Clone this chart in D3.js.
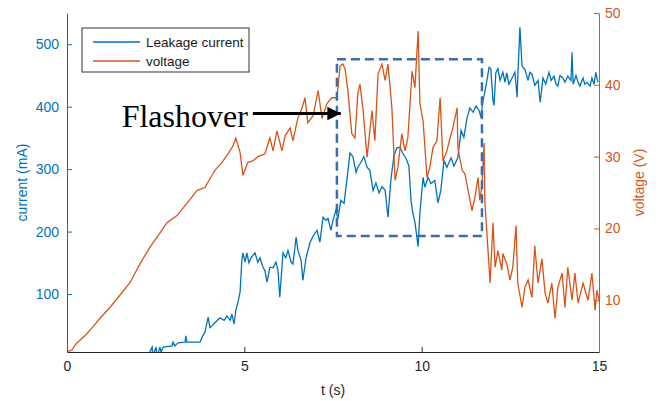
<!DOCTYPE html>
<html>
<head>
<meta charset="utf-8">
<title>Leakage current and voltage</title>
<script src="https://d3js.org/d3.v7.min.js"></script>
<style>
  body { margin: 0; background: #fff; font-family: "Liberation Sans", Arial, sans-serif; }
  .tick text { font-family: "Liberation Sans", Arial, sans-serif; }
</style>
</head>
<body>
<div id="chart"></div>
<script>
// voltage trace (t in s, V)
var voltageT = [0, 0.14, 0.25, 0.31, 0.51, 0.73, 0.93, 1.21, 1.49, 1.78, 1.92, 2.06, 2.34, 2.54, 2.82, 3.10, 3.38, 3.67,
  3.89, 4.17, 4.37, 4.54, 4.68, 4.76, 4.88, 4.96, 5.10, 5.24, 5.38, 5.58, 5.72, 5.81, 5.92, 6.06, 6.15, 6.29, 6.37,
  6.51, 6.63, 6.71, 6.79, 6.94, 7.08, 7.19, 7.33, 7.47, 7.61, 7.70, 7.78, 7.84, 7.92, 8.03, 8.12, 8.20, 8.26, 8.35,
  8.46, 8.60, 8.68, 8.77, 8.88, 8.97, 9.05, 9.16, 9.25, 9.33, 9.44, 9.53, 9.61, 9.73, 9.81, 9.90, 9.95, 10.04, 10.15,
  10.23, 10.32, 10.43, 10.52, 10.60, 10.71, 10.80, 10.88, 11.00, 11.02, 11.14, 11.22, 11.31, 11.42, 11.50, 11.59,
  11.64, 11.70, 11.76, 11.78, 11.84, 11.93, 12.01, 12.07, 12.15, 12.26, 12.29, 12.40, 12.49, 12.57, 12.66, 12.71,
  12.83, 12.91, 13.00, 13.11, 13.19, 13.28, 13.39, 13.48, 13.56, 13.67, 13.76, 13.84, 13.96, 14.04, 14.12, 14.24,
  14.32, 14.41, 14.55, 14.69, 14.80, 14.89, 14.94, 15.00];
var voltageV = [2.8, 3.1, 3.9, 4.2, 5.1, 6.3, 7.5, 9.0, 10.7, 12.5, 13.8, 15.1, 17.4, 18.8, 20.8, 21.8, 23.5, 25.3,
  25.7, 28.1, 29.2, 30.4, 31.5, 32.6, 30.6, 27.4, 29.2, 29.4, 30.0, 30.4, 32.6, 30.8, 33.6, 30.8, 32.9, 34.0, 32.2,
  35.4, 36.8, 38.2, 34.7, 35.7, 39.2, 35.3, 37.4, 38.2, 38.2, 42.6, 42.9, 42.2, 39.2, 33.2, 32.6, 38.8, 40.1, 36.4,
  29.9, 36.4, 32.2, 41.5, 42.9, 40.6, 42.9, 36.8, 26.7, 28.5, 33.2, 30.8, 32.6, 41.9, 39.6, 47.5, 37.4, 35.0, 27.1,
  28.5, 31.3, 32.2, 38.2, 29.4, 30.8, 32.6, 34.0, 36.8, 31.3, 28.1, 27.6, 25.3, 22.5, 24.3, 27.1,
  23.9, 26.0, 31.9, 23.9, 19.3, 12.4, 20.8, 14.6, 16.9, 14.2, 16.5, 15.1, 12.8, 14.6, 20.4, 12.4,
  9.0, 11.8, 12.8, 10.4, 17.6, 12.4, 15.8, 11.0, 9.6, 12.4, 7.5, 11.8, 13.8, 9.0, 14.6, 10.0,
  13.8, 9.6, 12.4, 10.0, 13.8, 8.6, 11.4, 10.0];

// leakage current trace (t in s, mA)
var currentT = [2.28, 2.40, 2.42, 2.51, 2.54, 2.62, 2.65, 2.71, 2.96, 2.99, 3.04, 3.13, 3.33, 3.35, 3.38, 3.55, 3.75,
  3.81, 3.89, 3.98, 4.03, 4.09, 4.17, 4.31, 4.43, 4.51, 4.60, 4.65, 4.71, 4.76, 4.82, 4.88, 4.93, 4.96, 5.02, 5.07,
  5.13, 5.19, 5.30, 5.38, 5.44, 5.53, 5.58, 5.64, 5.72, 5.81, 5.89, 5.95, 6.00, 6.09, 6.17, 6.23, 6.32, 6.37, 6.46,
  6.51, 6.60, 6.65, 6.74, 6.85, 6.94, 7.05, 7.13, 7.22, 7.30, 7.36, 7.44, 7.50, 7.58, 7.64, 7.72, 7.81, 7.89, 7.98,
  8.06, 8.15, 8.20, 8.29, 8.37, 8.46, 8.54, 8.63, 8.71, 8.80, 8.88, 8.97, 9.05, 9.13, 9.22, 9.30, 9.39, 9.47, 9.56,
  9.64, 9.70, 9.75, 9.81, 9.90, 9.95, 10.04, 10.09, 10.18, 10.26, 10.37, 10.46, 10.54, 10.63, 10.71, 10.83, 10.91,
  11.02, 11.11, 11.19, 11.28, 11.36, 11.45, 11.53, 11.62, 11.67, 11.73, 11.78, 11.84, 11.90, 11.95, 12.01, 12.04,
  12.09, 12.15, 12.21, 12.29, 12.35, 12.40, 12.46, 12.55, 12.63, 12.69, 12.71, 12.77, 12.83, 12.91, 13.00, 13.05,
  13.11, 13.19, 13.28, 13.34, 13.42, 13.50, 13.59, 13.65, 13.73, 13.79, 13.84, 13.90, 13.98, 14.04, 14.12, 14.21,
  14.24, 14.27, 14.35, 14.41, 14.46, 14.55, 14.60, 14.66, 14.75, 14.80, 14.86, 14.91, 14.97];
var currentI = [0, 15, 1, 15, 0, 15, 7, 15, 17, 23, 17, 22, 23, 33, 23, 23, 23,
  31, 39, 63, 46, 49, 54, 62, 58, 65, 58, 68, 52, 74, 87, 103, 154, 166, 151, 166,
  150, 158, 166, 151, 158, 142, 138, 119, 143, 142, 151, 138, 95, 166, 158, 170, 151, 148, 191,
  170, 154, 122, 158, 182, 193, 202, 183, 223, 218, 221, 202, 218, 234, 221, 250, 245, 282, 326,
  320, 295, 303, 311, 320, 303, 298, 266, 278, 262, 272, 266, 223, 282, 322, 334, 335, 325, 317,
  305, 250, 230, 215, 176, 230, 287, 271, 287, 277, 282, 246, 266, 314, 303, 318, 305,
  318, 362, 351, 382, 398, 391, 401, 394, 383, 410, 423, 442, 463, 461, 410, 402,
  454, 461, 442, 455, 439, 454, 436, 446, 455, 415, 447, 527, 465, 460, 442, 455,
  452, 434, 442, 407, 446, 436, 455, 442, 449, 436, 433, 450, 446, 439, 449, 442,
  487, 436, 450, 439, 433, 446, 436, 439, 433, 446, 436, 455, 439];

var xTicks = [0, 5, 10, 15];
var currentTicks = [100, 200, 300, 400, 500];
var voltageTicks = [10, 20, 30, 40, 50];
var seriesNames = ["Leakage current", "voltage"];
// flashover region: t from..to, current from..to
var flashT = [7.61, 11.70];
var flashI = [193, 476];

var blue = "#0072BD", orange = "#D95319";
var width = 661, height = 401;
var margin = { top: 13, right: 62, bottom: 49, left: 67 };
var w = width - margin.left - margin.right;
var h = height - margin.top - margin.bottom;

var svg = d3.select("#chart").append("svg")
  .attr("width", width).attr("height", height)
  .append("g")
  .attr("transform", "translate(" + margin.left + "," + margin.top + ")");

var x = d3.scaleLinear().domain([0, 15]).range([0, w]);
var yI = d3.scaleLinear().domain([7.2, 550]).range([h, 0]);
var yV = d3.scaleLinear().domain([2.8, 50]).range([h, 0]);

svg.append("defs").append("clipPath").attr("id", "clip")
  .append("rect").attr("width", w).attr("height", h);

var plot = svg.append("g").attr("clip-path", "url(#clip)");

var lineI = d3.line().x(function (d) { return x(d[0]); }).y(function (d) { return yI(d[1]); });
var lineV = d3.line().x(function (d) { return x(d[0]); }).y(function (d) { return yV(d[1]); });

plot.append("path")
  .datum(currentT.map(function (t, i) { return [t, currentI[i]]; }))
  .attr("d", lineI).attr("fill", "none").attr("stroke", blue).attr("stroke-width", 1.3);

plot.append("path")
  .datum(voltageT.map(function (t, i) { return [t, voltageV[i]]; }))
  .attr("d", lineV).attr("fill", "none").attr("stroke", orange).attr("stroke-width", 1.3);

// axes
var xAxis = svg.append("g").attr("transform", "translate(0," + h + ")")
  .call(d3.axisBottom(x).tickValues(xTicks).tickSizeInner(-5).tickSizeOuter(0).tickPadding(9));
xAxis.select(".domain").attr("stroke", "#262626");
xAxis.selectAll(".tick line").attr("stroke", "#262626");
xAxis.selectAll("text").attr("fill", "#262626").attr("font-size", 14);

var leftAxis = svg.append("g")
  .call(d3.axisLeft(yI).tickValues(currentTicks).tickSizeInner(-5).tickSizeOuter(0).tickPadding(8));
leftAxis.select(".domain").attr("stroke", blue);
leftAxis.selectAll(".tick line").attr("stroke", blue);
leftAxis.selectAll("text").attr("fill", blue).attr("font-size", 14);

var rightAxis = svg.append("g").attr("transform", "translate(" + w + ",0)")
  .call(d3.axisRight(yV).tickValues(voltageTicks).tickSizeInner(-5).tickSizeOuter(0).tickPadding(6));
rightAxis.select(".domain").attr("stroke", orange);
rightAxis.selectAll(".tick line").attr("stroke", orange);
rightAxis.selectAll("text").attr("fill", orange).attr("font-size", 14);

svg.append("text")
  .attr("transform", "translate(" + (-40) + "," + (h / 2) + ") rotate(-90)")
  .attr("text-anchor", "middle").attr("fill", blue).attr("font-size", 14)
  .text("current (mA)");

svg.append("text")
  .attr("transform", "translate(" + (w + 45) + "," + (h / 2) + ") rotate(-90)")
  .attr("text-anchor", "middle").attr("fill", orange).attr("font-size", 14)
  .text("voltage (V)");

svg.append("text")
  .attr("x", w / 2).attr("y", h + 43)
  .attr("text-anchor", "middle").attr("fill", "#262626").attr("font-size", 14)
  .text("t (s)");

// legend
var lg = svg.append("g").attr("transform", "translate(15,15)");
lg.append("rect").attr("width", 167).attr("height", 44)
  .attr("fill", "#fff").attr("stroke", "#333").attr("stroke-width", 1);
seriesNames.forEach(function (name, i) {
  lg.append("line").attr("x1", 11).attr("x2", 58)
    .attr("y1", 14 + i * 19).attr("y2", 14 + i * 19)
    .attr("stroke", i === 0 ? blue : orange).attr("stroke-width", 1.3);
  lg.append("text").attr("x", 64).attr("y", 14 + i * 19).attr("dy", "0.35em")
    .attr("font-size", 13.5).attr("fill", "#1a1a1a").text(name);
});

// flashover box and annotation
svg.append("rect")
  .attr("x", x(flashT[0])).attr("y", yI(flashI[1]))
  .attr("width", x(flashT[1]) - x(flashT[0]))
  .attr("height", yI(flashI[0]) - yI(flashI[1]))
  .attr("fill", "none").attr("stroke", "#3b6ea8").attr("stroke-width", 2.5)
  .attr("stroke-dasharray", "9,5");

svg.append("defs").append("marker").attr("id", "head")
  .attr("viewBox", "0 0 10 10").attr("refX", 10).attr("refY", 5)
  .attr("markerWidth", 5).attr("markerHeight", 4.5).attr("markerUnits", "strokeWidth")
  .attr("orient", "auto")
  .append("path").attr("d", "M0,0L10,5L0,10Z").attr("fill", "#000");

svg.append("line")
  .attr("x1", x(5.24)).attr("x2", x(7.72))
  .attr("y1", yI(389)).attr("y2", yI(389))
  .attr("stroke", "#000").attr("stroke-width", 3).attr("marker-end", "url(#head)");

svg.append("text")
  .attr("x", x(5.24) - 5).attr("y", yI(367))
  .attr("text-anchor", "end")
  .attr("font-family", "'Liberation Serif', 'Times New Roman', serif")
  .attr("font-size", 32).attr("fill", "#000")
  .text("Flashover");
</script>
</body>
</html>
